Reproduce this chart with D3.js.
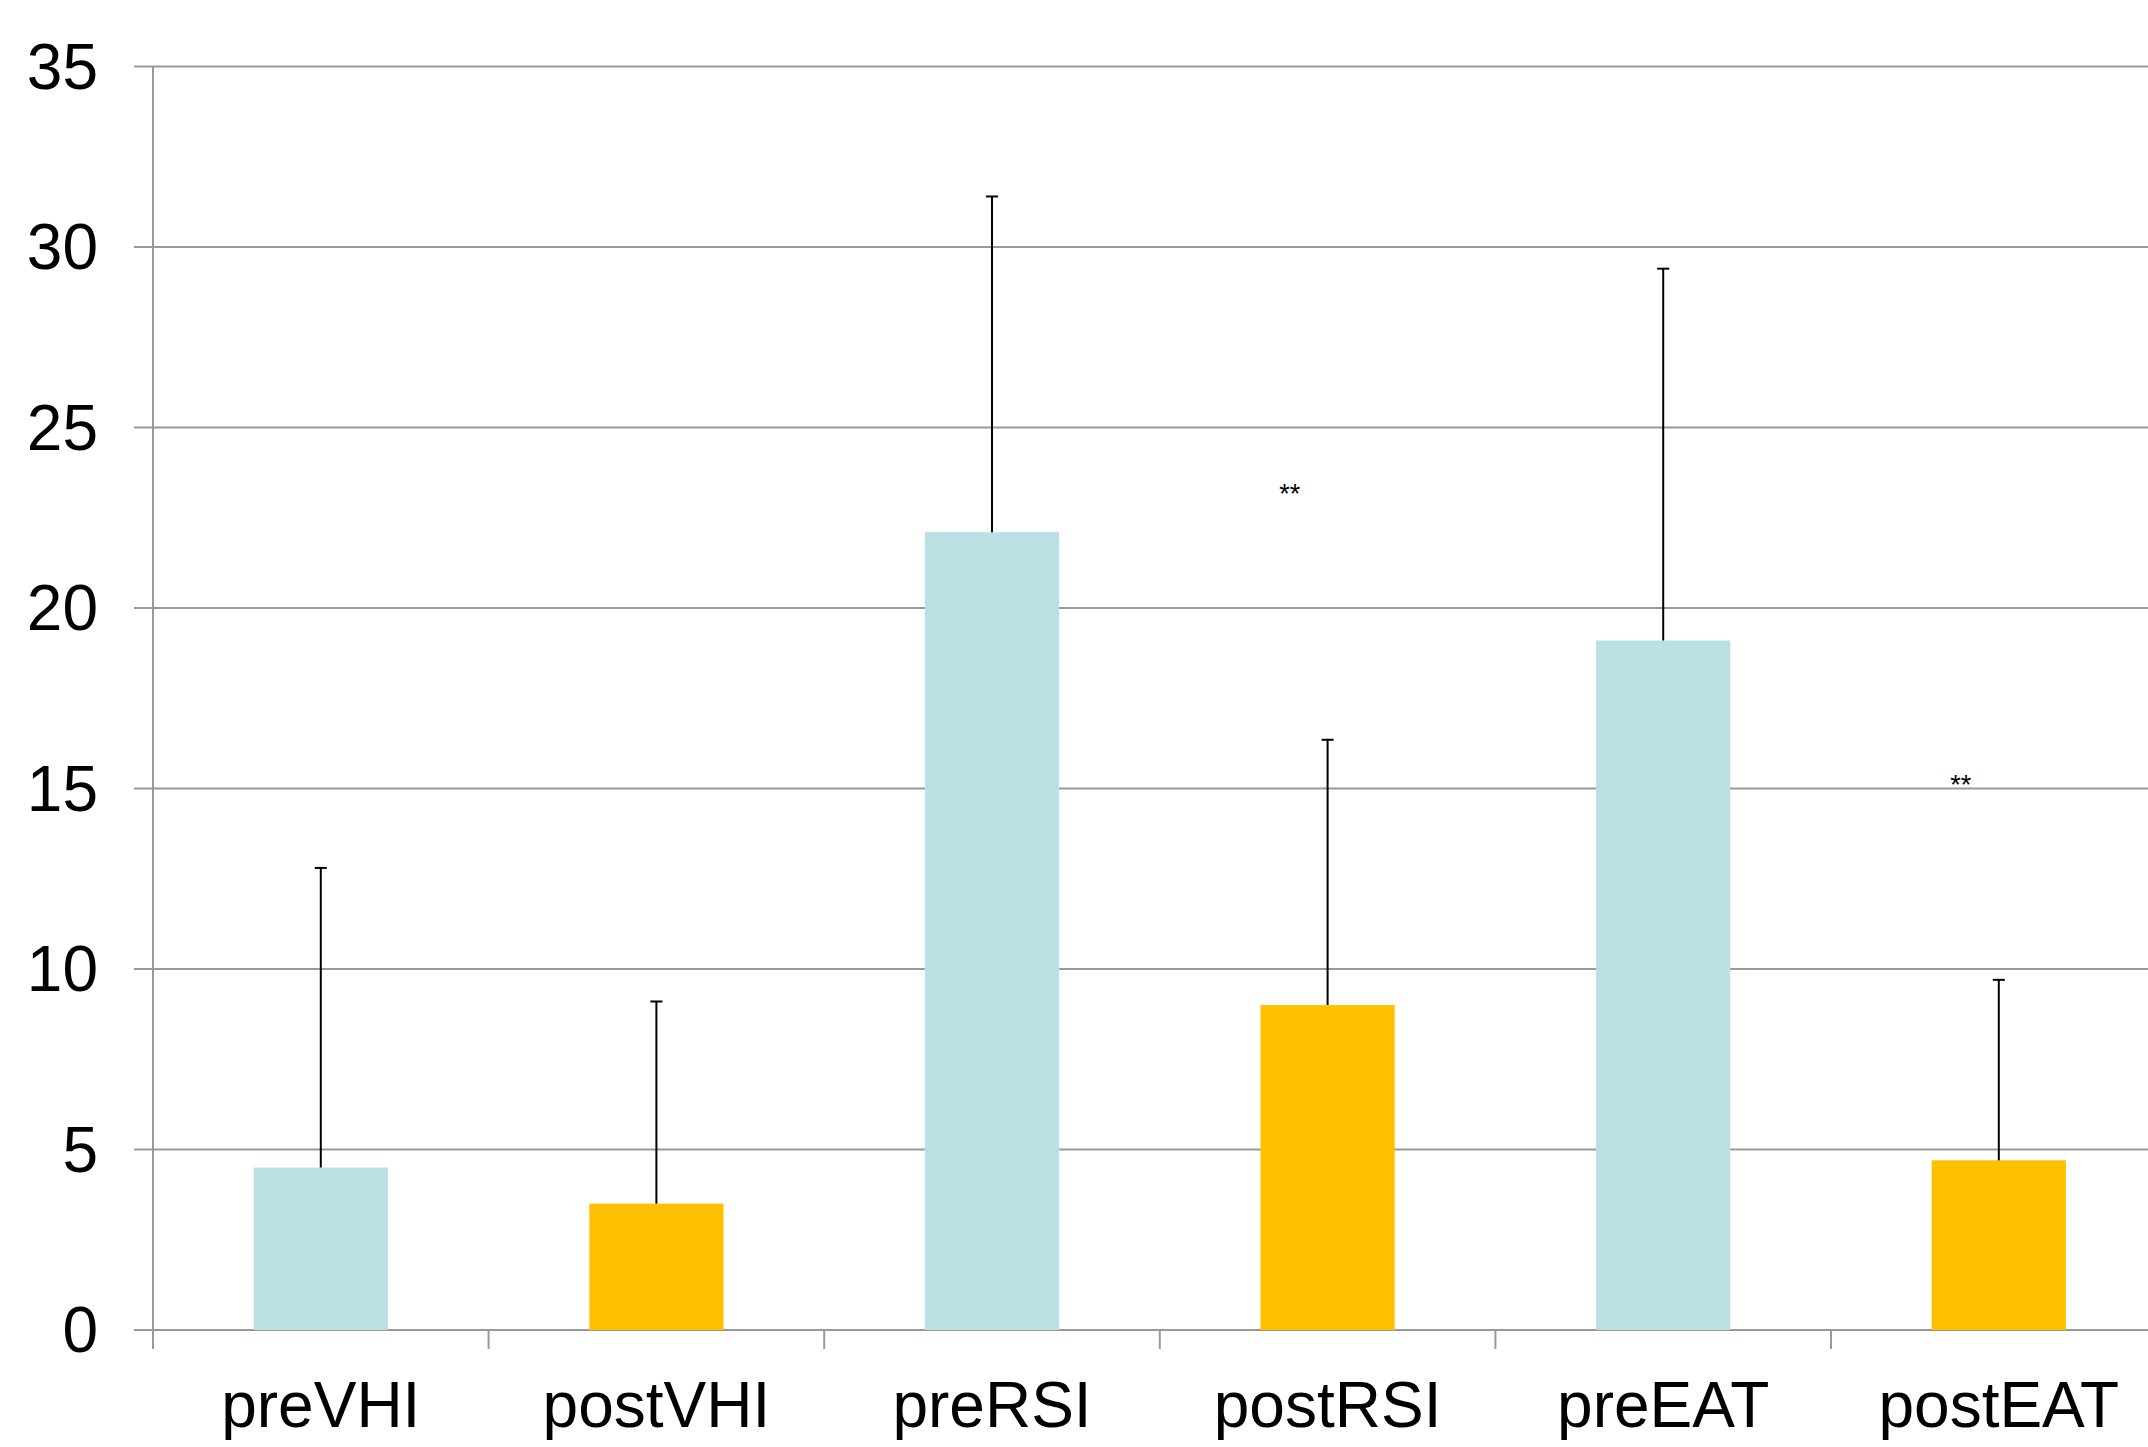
<!DOCTYPE html>
<html>
<head>
<meta charset="utf-8">
<script src="https://cdn.jsdelivr.net/npm/d3@7"></script>
<style>
  html, body { margin: 0; padding: 0; background: #fff; overflow: hidden; }
  svg { display: block; }
  text { font-family: "Liberation Sans", Arial, sans-serif; fill: #000; }
</style>
</head>
<body>
<svg id="chart" width="2148" height="1447"></svg>
<script>
const categories = ["preVHI", "postVHI", "preRSI", "postRSI", "preEAT", "postEAT"];
const means = [4.5, 3.5, 22.1, 9.0, 19.1, 4.7];
const errorTops = [12.8, 9.1, 31.4, 16.35, 29.4, 9.7];
const groups = ["pre", "post", "pre", "post", "pre", "post"];
const yTicks = [0, 5, 10, 15, 20, 25, 30, 35];
const starCategories = ["postRSI", "postEAT"];
const starValues = [22.9, 14.85];
const starLabels = ["**", "**"];

const colors = { pre: "#BBE0E3", post: "#FFC000" };

(function () {
  const svg = d3.select("#chart");
  const mLeft = 153, mRight = 2166.6, mTop = 66.5, mBottom = 1330;

  const x = d3.scaleBand().domain(categories).range([mLeft, mRight])
    .paddingInner(0.6).paddingOuter(0.3);
  const step = x.step();
  const y = d3.scaleLinear().domain([0, 35]).range([mBottom, mTop]);

  // gridlines
  svg.append("g").selectAll("line").data(yTicks).join("line")
    .attr("x1", mLeft - 19).attr("x2", 2148)
    .attr("y1", d => y(d)).attr("y2", d => y(d))
    .attr("stroke", "#999").attr("stroke-width", 2);

  // y tick labels
  svg.append("g").selectAll("text").data(yTicks).join("text")
    .attr("x", 98).attr("y", d => y(d))
    .attr("text-anchor", "end").attr("dominant-baseline", "central")
    .attr("font-size", 64).text(d => d);

  // bars
  svg.append("g").selectAll("rect").data(categories).join("rect")
    .attr("x", d => x(d)).attr("width", x.bandwidth())
    .attr("y", (d, i) => y(means[i]))
    .attr("height", (d, i) => y(0) - y(means[i]))
    .attr("fill", (d, i) => colors[groups[i]]);

  // y axis line
  svg.append("line").attr("x1", mLeft).attr("x2", mLeft)
    .attr("y1", mTop).attr("y2", mBottom + 19)
    .attr("stroke", "#999").attr("stroke-width", 2);

  // x axis category ticks
  const bounds = d3.range(categories.length + 1).map(i => mLeft + i * step);
  svg.append("g").selectAll("line").data(bounds).join("line")
    .attr("x1", d => d).attr("x2", d => d)
    .attr("y1", mBottom).attr("y2", mBottom + 19)
    .attr("stroke", "#999").attr("stroke-width", 2);

  // error bars
  const eb = svg.append("g").attr("stroke", "#000").attr("stroke-width", 2);
  categories.forEach((c, i) => {
    const cx = x(c) + x.bandwidth() / 2;
    eb.append("line").attr("x1", cx).attr("x2", cx)
      .attr("y1", y(means[i])).attr("y2", y(errorTops[i]));
    eb.append("line").attr("x1", cx - 6).attr("x2", cx + 6)
      .attr("y1", y(errorTops[i])).attr("y2", y(errorTops[i]));
  });

  // x labels
  svg.append("g").selectAll("text").data(categories).join("text")
    .attr("x", d => x(d) + x.bandwidth() / 2).attr("y", 1427)
    .attr("text-anchor", "middle").attr("font-size", 64).text(d => d);

  // significance stars
  svg.append("g").selectAll("text").data(starCategories).join("text")
    .attr("x", d => x(d) + x.bandwidth() / 2 - 0.113 * step)
    .attr("y", (d, i) => y(starValues[i]))
    .attr("text-anchor", "middle").attr("font-size", 27)
    .text((d, i) => starLabels[i]);
})();
</script>
</body>
</html>
